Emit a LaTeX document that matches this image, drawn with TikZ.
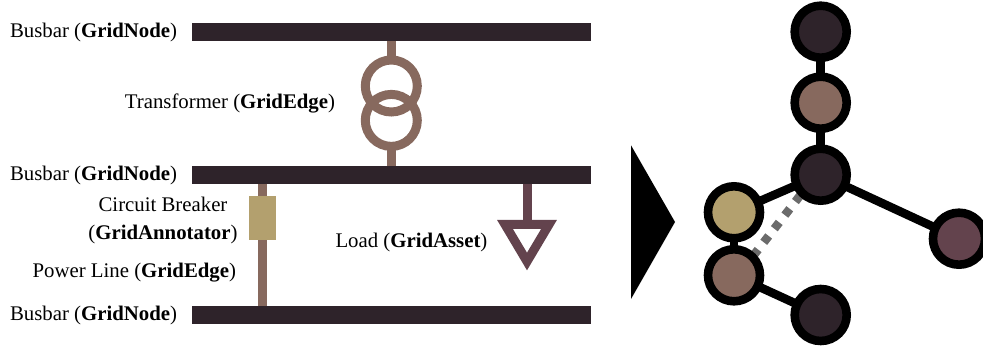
\documentclass[tikz,border=0pt]{standalone}
\usepackage{fontspec}
\setmainfont{Liberation Serif}
\usetikzlibrary{backgrounds}
\definecolor{darkbus}{HTML}{2E232A}
\definecolor{brownedge}{HTML}{87695E}
\definecolor{tanann}{HTML}{B3A06E}
\definecolor{plumasset}{HTML}{63434D}
\definecolor{dotgray}{HTML}{6B6B6B}
\tikzset{
  busbar/.style={fill=darkbus,draw=none,minimum width=399pt,minimum height=18pt,inner sep=0pt,outer sep=0pt,rectangle},
  wire/.style={draw=brownedge,line width=9pt},
  loadwire/.style={draw=plumasset,line width=9pt},
  coil/.style={circle,draw=brownedge,line width=9pt,minimum size=52pt,inner sep=0pt,outer sep=0pt},
  breaker/.style={rectangle,fill=tanann,draw=none,minimum width=27pt,minimum height=44pt,inner sep=0pt,outer sep=0pt},
  lbl/.style={font=\fontsize{20.8pt}{24pt}\selectfont,inner sep=0pt,outer sep=0pt,text=black},
  gnode/.style={circle,draw=black,line width=8.6pt,minimum size=52pt,inner sep=0pt,outer sep=0pt},
  gedge/.style={draw=black,line width=8.6pt},
  gdash/.style={draw=dotgray,line width=8.6pt,dash pattern=on 8pt off 9.2pt,dash phase=1.2pt},
}
\begin{document}
\begin{tikzpicture}[x=1pt,y=-1pt]
\useasboundingbox (0,0) rectangle (983,347);
% busbars
\node[busbar] (bus1) at (391.5,32) {};
\node[busbar] (bus2) at (391.5,175) {};
\node[busbar] (bus3) at (391.5,315) {};
% transformer
\node[coil] (coilA) at (391.3,86) {};
\node[coil] (coilB) at (391.3,120.4) {};
\draw[wire] (coilA.north |- bus1.south) -- (coilA.north);
\draw[wire] (coilB.south) -- (coilB.south |- bus2.north);
% power line and breaker
\coordinate (lineTop) at (262.3,184);
\coordinate (lineBot) at (262.3,306);
\draw[wire] (lineTop) -- (lineBot);
\node[breaker] (brk) at (262.3,218) {};
% load
\coordinate (loadTop) at (527,184);
\coordinate (loadBase) at (527,224.5);
\draw[loadwire] (loadTop) -- (loadBase);
\draw[draw=plumasset,line width=9pt,miter limit=10] (505,224.5) -- (549,224.5) -- (527,261.5) -- cycle;
% labels
\node[lbl,anchor=base east] (t1) at (177,38) {Busbar (\textbf{GridNode})};
\node[lbl,anchor=base east] (t2) at (177,181) {Busbar (\textbf{GridNode})};
\node[lbl,anchor=base east] (t3) at (177,321) {Busbar (\textbf{GridNode})};
\node[lbl,anchor=base east] (t4) at (335,109) {Transformer (\textbf{GridEdge})};
\node[lbl,anchor=base] (t5) at (163,212) {Circuit Breaker};
\node[lbl,anchor=base] (t6) at (163,240) {(\textbf{GridAnnotator})};
\node[lbl,anchor=base east] (t7) at (236,278) {Power Line (\textbf{GridEdge})};
\node[lbl,anchor=base west] (t8) at (335.5,248) {Load (\textbf{GridAsset})};
% big arrow
\fill[black] (631,145.3) -- (675,222) -- (631,299) -- cycle;
% graph
\node[gnode,fill=darkbus] (n1) at (820.7,31.7) {};
\node[gnode,fill=brownedge] (n2) at (820.7,102.7) {};
\node[gnode,fill=darkbus] (n3) at (820.7,174.7) {};
\node[gnode,fill=tanann] (n4) at (734,212.3) {};
\node[gnode,fill=brownedge] (n5) at (734,275.3) {};
\node[gnode,fill=darkbus] (n6) at (820.7,315) {};
\node[gnode,fill=plumasset] (n7) at (959,238.7) {};
\coordinate (dashA) at (820.7,169);
\coordinate (dashB) at (734,280.6);
\begin{scope}[on background layer]
\draw[gedge] (n1.center) -- (n2.center);
\draw[gedge] (n2.center) -- (n3.center);
\draw[gedge] (n3.center) -- (n4.center);
\draw[gedge] (n3.center) -- (n7.center);
\draw[gedge] (n4.center) -- (n5.center);
\draw[gedge] (n5.center) -- (n6.center);
\draw[gdash] (dashA) -- (dashB);
\end{scope}
\end{tikzpicture}
\end{document}
